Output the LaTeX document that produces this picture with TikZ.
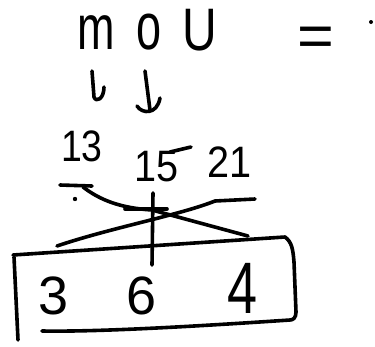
\documentclass[tikz,border=0pt]{standalone}
\usepackage{fontspec}
\setmainfont{Liberation Sans}
\begin{document}
\begin{tikzpicture}[x=1pt,y=-1pt,
  ink/.style={line width=3.6pt,line cap=round,line join=round},
  hand/.style={inner sep=0pt,outer sep=0pt,anchor=center},
  big/.style={hand,font=\fontsize{60}{60}\selectfont},
  mid/.style={hand,font=\fontsize{44}{44}\selectfont},
  box/.style={hand,font=\fontsize{54}{54}\selectfont}]
\useasboundingbox (0,0) rectangle (375,346);
% top word
\node[big,xscale=0.75,yscale=1.05] (m) at (96,33) {m};
\node[big,xscale=0.75,yscale=1.1] (o) at (149,32) {o};
\node[big,xscale=0.8] (u) at (200,30) {U};
\node[big,xscale=1.05] (eq) at (316,42) {=};
\fill (371,22) circle (2pt);
% hand arrows
\draw[ink] (92,71) -- (94,97) .. controls (96,103) and (104,99) .. (104,87);
\draw[ink] (145,71) -- (150,110);
\draw[ink] (137,106) .. controls (142,114) and (157,115) .. (160,98);
% numbers
\node[mid,xscale=0.85] (n13) at (82,146) {13};
\node[mid,xscale=0.9] (n15) at (157,167) {15};
\node[mid,xscale=0.9] (n21) at (230,162) {21};
\draw[ink] (170,152) -- (191,147);
% strokes
\draw[ink] (60,185) -- (92,186);
\fill (75,199) circle (2.2pt);
\draw[ink] (83,187) .. controls (100,200) and (120,208) .. (152,210) -- (248,236);
\draw[ink] (125,209) -- (167,209);
\draw[ink] (255,199) -- (215,201) .. controls (180,215) and (110,228) .. (57,246);
\draw[ink] (153,193) -- (152,265);
% box
\draw[ink] (13,255) -- (285,237) .. controls (292,242) and (293,250) .. (294,262) -- (296,312) .. controls (296,318) and (293,320) .. (290,320)
  .. controls (200,326) and (100,332) .. (42,331);
\draw[ink] (14,257) -- (18,340);
\node[box] (d3) at (54,296) {3};
\node[box] (d6) at (142,296) {6};
\node[box,yscale=1.35] (d4) at (243,288) {4};
\end{tikzpicture}
\end{document}
